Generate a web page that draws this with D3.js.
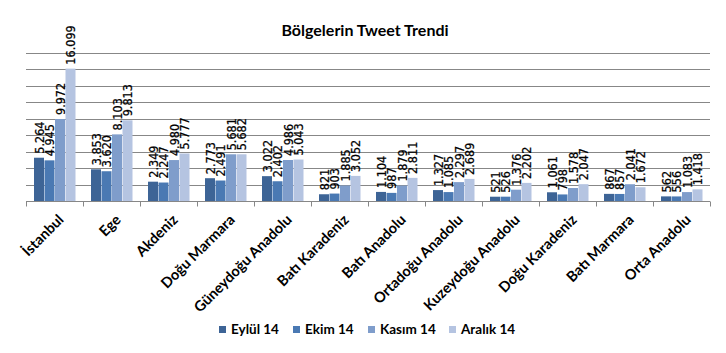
<!DOCTYPE html>
<html>
<head>
<meta charset="utf-8">
<script src="https://cdn.jsdelivr.net/npm/d3@7"></script>
<style>
  body { margin: 0; background: #fff; }
</style>
</head>
<body>
<div id="chart-area"></div>
<script>
// bölge verileri
var regions = ["İstanbul", "Ege", "Akdeniz", "Doğu Marmara", "Güneydoğu Anadolu", "Batı Karadeniz",
    "Batı Anadolu", "Ortadoğu Anadolu", "Kuzeydoğu Anadolu", "Doğu Karadeniz", "Batı Marmara", "Orta Anadolu"];
var months = ["Eylül 14", "Ekim 14", "Kasım 14", "Aralık 14"];
var eylul  = [5264, 3853, 2349, 2773, 3022, 821, 1104, 1327, 521, 1061, 867, 562];
var ekim   = [4945, 3620, 2247, 2491, 2402, 903, 987, 1085, 526, 798, 857, 556];
var kasim  = [9972, 8103, 4980, 5681, 4986, 1885, 1879, 2297, 1376, 1578, 2041, 1083];
var aralik = [16099, 9813, 5777, 5682, 5043, 3052, 2811, 2689, 2202, 2047, 1672, 1418];
var yTicks = [2000, 4000, 6000, 8000, 10000, 12000, 14000, 16000, 18000];

var series = [eylul, ekim, kasim, aralik];
var colors = ["#3d6496", "#4a79b3", "#7f9dcb", "#b5c4e1"];

var W = 726, H = 353;
var margin = { left: 26, right: 16, top: 53, bottom: 152 };
var width = W - margin.left - margin.right;
var height = H - margin.top - margin.bottom;

var svg = d3.select("#chart-area").append("svg")
    .attr("width", W)
    .attr("height", H);

var g = svg.append("g")
    .attr("transform", "translate(" + margin.left + ", " + margin.top + ")");

var x = d3.scaleBand().domain(regions).range([0, width]);
var x1 = d3.scaleBand().domain(d3.range(4)).range([8, x.bandwidth() - 7]);
var y = d3.scaleLinear().domain([0, 18000]).range([height, 0]);

var fmt = function(v) { return d3.format(",")(v).replace(/,/g, "."); };

// grid
g.selectAll(".grid").data(yTicks).enter().append("line")
    .attr("x1", 0).attr("x2", width)
    .attr("y1", (d) => Math.round(y(d)) + 0.5)
    .attr("y2", (d) => Math.round(y(d)) + 0.5)
    .attr("stroke", "#878787")
    .attr("stroke-width", 1);

// bars
var groups = g.selectAll(".region").data(regions).enter().append("g")
    .attr("transform", (d) => "translate(" + x(d) + ",0)");

groups.each(function(r, i) {
    var grp = d3.select(this);
    series.forEach((s, k) => {
        grp.append("rect")
            .attr("x", x1(k))
            .attr("width", x1.bandwidth() - 0.5)
            .attr("y", y(s[i]))
            .attr("height", height - y(s[i]))
            .attr("fill", colors[k]);
        grp.append("text")
            .attr("transform", "translate(" + (x1(k) + x1.bandwidth() / 2 + 4.5) + "," + (y(s[i]) - 4) + ") rotate(-90)")
            .attr("text-anchor", "start")
            .style("font-family", "'DejaVu Sans Condensed', 'DejaVu Sans', sans-serif")
            .style("font-size", "12.5px")
            .style("fill", "#000")
            .style("stroke", "#000")
            .style("stroke-width", 0.25)
            .text(fmt(s[i]));
    });
});

// x axis
var xAxis = g.append("g")
    .attr("transform", "translate(0," + (Math.round(height) + 0.5) + ")");
xAxis.append("line")
    .attr("x1", 0).attr("x2", width)
    .attr("stroke", "#878787");
xAxis.selectAll(".tk").data(d3.range(regions.length + 1)).enter().append("line")
    .attr("x1", (d) => Math.round(d * x.bandwidth()) + 0.5)
    .attr("x2", (d) => Math.round(d * x.bandwidth()) + 0.5)
    .attr("y1", 0).attr("y2", 5)
    .attr("stroke", "#878787");
xAxis.selectAll(".lbl").data(regions).enter().append("text")
    .attr("transform", (d) => "translate(" + (x(d) + x.bandwidth() / 2 + 3) + ",12) rotate(-45)")
    .attr("text-anchor", "end")
    .attr("dy", "0.7em")
    .style("font-family", "Lato, 'Open Sans', sans-serif")
    .style("font-size", "14.5px")
    .style("font-weight", "bold")
    .style("fill", "#000")
    .text((d) => d);

// title
svg.append("text")
    .attr("x", 365)
    .attr("y", 36)
    .attr("text-anchor", "middle")
    .style("font-family", "Lato, 'Open Sans', sans-serif")
    .style("font-size", "16px")
    .style("font-weight", "bold")
    .text("Bölgelerin Tweet Trendi");

// legend
var legX = [219, 293, 368, 449];
var legend = svg.selectAll(".legend").data(months).enter().append("g")
    .attr("transform", (d, i) => "translate(" + legX[i] + ",326)");
legend.append("rect")
    .attr("width", 7).attr("height", 7)
    .attr("fill", (d, i) => colors[i]);
legend.append("text")
    .attr("x", 12).attr("y", 8)
    .style("font-family", "Lato, 'Open Sans', sans-serif")
    .style("font-size", "13.5px")
    .style("font-weight", "bold")
    .text((d) => d);
</script>
</body>
</html>
